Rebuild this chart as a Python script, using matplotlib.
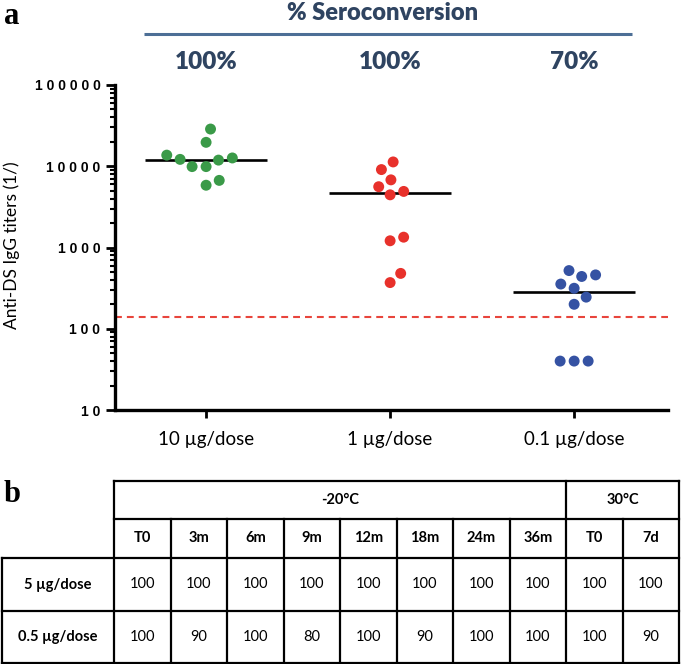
import numpy as np
import matplotlib
matplotlib.use('Agg')
import matplotlib.pyplot as plt
import matplotlib.transforms as mtransforms
from matplotlib.ticker import LogLocator, FuncFormatter, NullFormatter

# panel a data (titers)
doses = ['10 µg/dose', '1 µg/dose', '0.1 µg/dose']
titers_10 = [28700, 19700, 13700, 12150, 9900, 9900, 11900, 12650, 5840, 6700]
titers_1 = [11300, 9100, 6800, 5600, 4450, 4900, 1340, 1210, 480, 370]
titers_01 = [440, 520, 460, 355, 315, 245, 200, 40, 40, 40]
seroconv = ['100%', '100%', '70%']
cutoff = 140
colors = ['#3a9a48', '#e8312b', '#3552a3']

# panel b data
temps = ['-20°C', '30°C']
temp_span = [8, 2]
timepoints = ['T0', '3m', '6m', '9m', '12m', '18m', '24m', '36m', 'T0', '7d']
row_labels = ['5 µg/dose', '0.5 µg/dose']
rate_5 = [100, 100, 100, 100, 100, 100, 100, 100, 100, 100]
rate_05 = [100, 90, 100, 80, 100, 90, 100, 100, 100, 90]

W, H = 681, 664
head_col = '#2f4461'
sans = ['Lato', 'DejaVu Sans']

fig = plt.figure(figsize=(W / 100, H / 100), dpi=100)
ax = fig.add_axes([115 / W, 1 - 410 / H, (668 - 115) / W, (410 - 85) / H])
ax.set_yscale('log')
ax.set_ylim(10, 100000)
ax.set_xlim(-0.495, 2.51)

for s in ['top', 'right']:
    ax.spines[s].set_visible(False)
for s in ['left', 'bottom']:
    ax.spines[s].set_linewidth(2.4)

ax.yaxis.set_major_locator(LogLocator(base=10, numticks=10))
ax.yaxis.set_minor_locator(LogLocator(base=10, subs=np.arange(2, 10), numticks=10))
ax.yaxis.set_minor_formatter(NullFormatter())
ax.yaxis.set_major_formatter(FuncFormatter(lambda v, _: ' '.join(str(int(round(v))))))
ax.tick_params(axis='y', which='major', length=6.5, width=2, pad=4)
ax.tick_params(axis='y', which='minor', length=3.5, width=1.5)
for lab in ax.get_yticklabels():
    lab.set_family(['Liberation Sans', 'DejaVu Sans'])
    lab.set_fontweight('bold')
    lab.set_fontsize(10)

ax.set_xticks(range(len(doses)))
ax.set_xticklabels(doses, family=sans, fontsize=13.5)
ax.tick_params(axis='x', length=6, width=2, pad=9)

ax.set_ylabel('Anti-DS IgG titers (1/)', family=sans, fontsize=12.5)
ax.yaxis.set_label_coords(-0.172, 0.508)


def swarm(values, x0, diam):
    pts = ax.transData.transform(np.column_stack([np.full(len(values), x0), values]))
    ys = pts[:, 1]
    dx = np.zeros(len(values))
    placed = []
    for i in np.argsort(ys):
        y = ys[i]
        cands = [0.0]
        for px, py in placed:
            dy = y - py
            if abs(dy) < diam:
                h = np.sqrt(diam ** 2 - dy ** 2)
                cands += [px + h, px - h]
        cands.sort(key=abs)
        for c in cands:
            if all((c - px) ** 2 + (y - py) ** 2 >= diam ** 2 - 1e-6 for px, py in placed):
                dx[i] = c
                break
        placed.append((dx[i], y))
    unit = ax.transData.transform([[1, 10]])[0, 0] - ax.transData.transform([[0, 10]])[0, 0]
    return x0 + dx / unit


groups = [titers_10, titers_1, titers_01]
for i, vals in enumerate(groups):
    xs = swarm(vals, i, 14)
    ax.scatter(xs, vals, s=62, color=colors[i], edgecolors='none', zorder=3, clip_on=False)
    ax.hlines(np.median(vals), i - 0.33, i + 0.33, color='black', lw=1.9, zorder=2)

ax.axhline(cutoff, color='#e8453c', lw=1.5, dashes=(3.3, 2.4), zorder=1)

# header over panel a
fig.text(383 / W, 1 - 13 / H, '% Seroconversion', ha='center', va='center',
         family=sans, fontweight='heavy', fontsize=17, color=head_col)
tr = mtransforms.blended_transform_factory(ax.transData, fig.transFigure)
for i, p in enumerate(seroconv):
    fig.text(i, 1 - 62 / H, p, transform=tr, ha='center', va='center',
             family=sans, fontweight='heavy', fontsize=17.5, color=head_col)

# overlay in pixel units for line, panel letters and table
ov = fig.add_axes([0, 0, 1, 1])
ov.set_xlim(0, W)
ov.set_ylim(H, 0)
ov.axis('off')
ov.plot([144, 632], [34, 34], color='#4d6f96', lw=2.2, solid_capstyle='butt')
ov.text(4, 16, 'a', ha='left', va='center', family=['Liberation Serif', 'DejaVu Serif'],
        fontweight='bold', fontsize=22)
ov.text(4, 494, 'b', ha='left', va='center', family=['Liberation Serif', 'DejaVu Serif'],
        fontweight='bold', fontsize=22)

# table
x_left, x_lab = 2, 114
cw = (679 - x_lab) / len(timepoints)
xe = x_lab + cw * np.arange(len(timepoints) + 1)
ye = [481, 519, 558, 611, 663]
lw = 1.6
kw = dict(color='black', lw=lw, solid_capstyle='projecting')
for y in ye[:2]:
    ov.plot([x_lab, xe[-1]], [y, y], **kw)
for y in ye[2:]:
    ov.plot([x_left, xe[-1]], [y, y], **kw)
ov.plot([x_left, x_left], [ye[2], ye[4]], **kw)
edges_top = np.cumsum([0] + temp_span)
for k, x in enumerate(xe):
    top = ye[0] if k in edges_top else ye[1]
    ov.plot([x, x], [top, ye[4]], **kw)

for t, a, b in zip(temps, edges_top[:-1], edges_top[1:]):
    ov.text((xe[a] + xe[b]) / 2, (ye[0] + ye[1]) / 2, t, ha='center', va='center',
            family=sans, fontweight='bold', fontsize=10.5)
for k, t in enumerate(timepoints):
    cx = (xe[k] + xe[k + 1]) / 2
    ov.text(cx, (ye[1] + ye[2]) / 2, t, ha='center', va='center',
            family=sans, fontweight='bold', fontsize=10.5)
    for r, row in enumerate([rate_5, rate_05]):
        ov.text(cx, (ye[2 + r] + ye[3 + r]) / 2, str(row[k]), ha='center', va='center',
                family=sans, fontsize=10.5)
for r, lab in enumerate(row_labels):
    ov.text((x_left + x_lab) / 2, (ye[2 + r] + ye[3 + r]) / 2, lab, ha='center', va='center',
            family=sans, fontweight='bold', fontsize=10.5)

fig.savefig('out.png', dpi=100)
